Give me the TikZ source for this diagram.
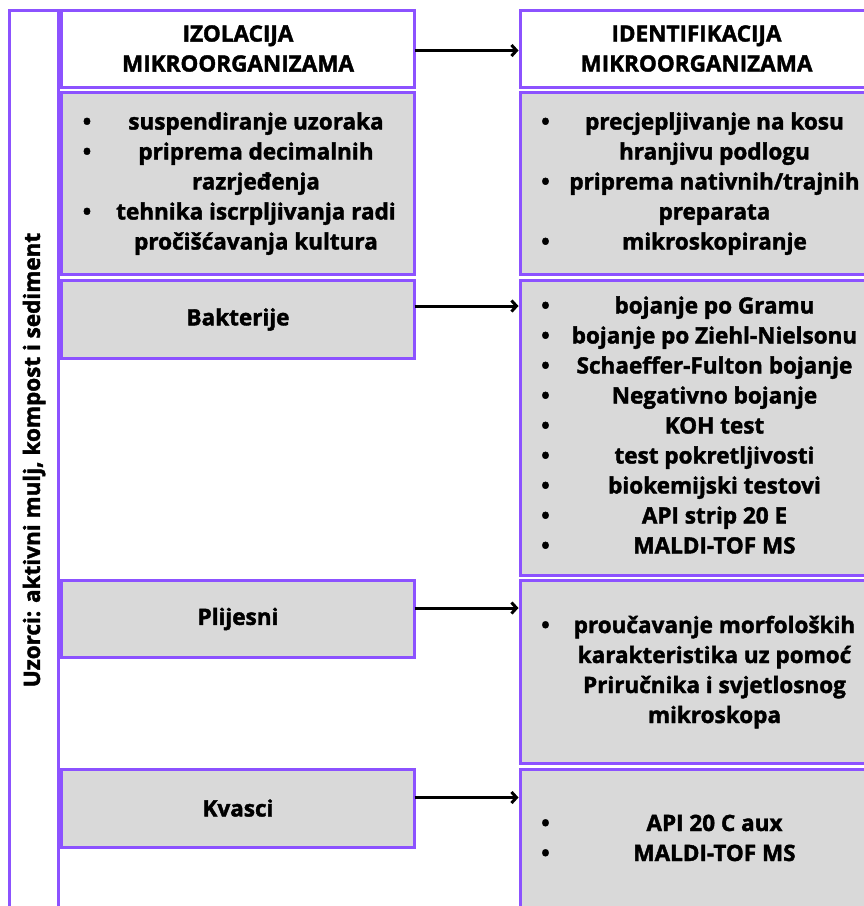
\documentclass[tikz,border=0pt]{standalone}
\usepackage{fontspec}
\setmainfont{Open Sans}[BoldFeatures={FakeBold=1.8}]
\usepackage{array}
\usetikzlibrary{positioning, arrows.meta}

\definecolor{lila}{HTML}{8C52FF}
\definecolor{siva}{HTML}{D9D9D9}
\newcolumntype{B}{>{\centering\arraybackslash}p{36pt}}
\newcolumntype{T}{>{\centering\arraybackslash}p{302pt}}
\newcommand{\stavke}[1]{\begin{tabular}{@{}B@{}T@{}}#1\end{tabular}}

\tikzset{
  okvir/.style={draw=lila, line width=3pt, minimum width=353pt, inner sep=0pt, outer sep=0pt, anchor=north west},
  naslov/.style={okvir, fill=white, minimum height=77pt, align=center},
  siviokvir/.style={okvir, fill=siva},
  strelica/.style={->, line width=3pt, shorten >=1.5pt}
}

\begin{document}
\begin{tikzpicture}[x=1pt, y=-1pt, >={Straight Barb[length=5pt, width=11pt]},
  font=\fontsize{22.5}{30}\selectfont\bfseries]
  \useasboundingbox (0,0) rectangle (864,906);
  \clip (0,0) rectangle (864,906);

  % uzorci
  \node[draw=lila, line width=3pt, rotate=90, minimum width=900pt, minimum height=48.8pt, inner sep=0pt] (uzorci) at (34.1,460) {Uzorci: aktivni mulj, kompost i sediment};

  % izolacija
  \node[naslov] (izol) at (61.5,10) {IZOLACIJA\\MIKROORGANIZAMA};
  \node[siviokvir, minimum height=182pt, below=5.5pt of izol.south west, anchor=north west] (izolpost) {\stavke{
    \textbullet & suspendiranje uzoraka\\
    \textbullet & priprema decimalnih\\
                & razrjeđenja\\
    \textbullet & tehnika iscrpljivanja radi\\
                & pročišćavanja kultura}};
  \node[siviokvir, minimum height=78pt, below=6pt of izolpost.south west, anchor=north west] (bakt) {Bakterije};

  % identifikacija
  \node[naslov] (ident) at (520,10) {IDENTIFIKACIJA\\MIKROORGANIZAMA};
  \node[siviokvir, minimum height=182pt, below=5.5pt of ident.south west, anchor=north west] (identpost) {\stavke{
    \textbullet & precjepljivanje na kosu\\
                & hranjivu podlogu\\
    \textbullet & priprema nativnih/trajnih\\
                & preparata\\
    \textbullet & mikroskopiranje}};
  \node[siviokvir, minimum height=295pt, below=5.5pt of identpost.south west, anchor=north west] (baktid) {\stavke{
    \textbullet & bojanje po Gramu\\
    \textbullet & bojanje po Ziehl-Nielsonu\\
    \textbullet & Schaeffer-Fulton bojanje\\
    \textbullet & Negativno bojanje\\
    \textbullet & KOH test\\
    \textbullet & test pokretljivosti\\
    \textbullet & biokemijski testovi\\
    \textbullet & API strip 20 E\\
    \textbullet & MALDI-TOF MS}};
  \node[siviokvir, minimum height=183pt, below=5.5pt of baktid.south west, anchor=north west] (plijid) {\stavke{
    \textbullet & proučavanje morfoloških\\
                & karakteristika uz pomoć\\
                & Priručnika i svjetlosnog\\
                & mikroskopa}};
  \node[siviokvir, minimum height=142pt, below=5.5pt of plijid.south west, anchor=north west] (kvasid) {\stavke{
    \textbullet & API 20 C aux\\
    \textbullet & MALDI-TOF MS}};

  % plijesni i kvasci
  \node[siviokvir, minimum height=77pt] (plij) at (izol.west |- plijid.north) {Plijesni};
  \node[siviokvir, minimum height=78pt] (kvas) at (izol.west |- kvasid.north) {Kvasci};

  % strelice
  \draw[strelica] ([yshift=-2pt]izol.east) -- ([yshift=-2pt]izol.east -| ident.west);
  \draw[strelica] ([yshift=13.5pt]bakt.east) -- ([yshift=13.5pt]bakt.east -| baktid.west);
  \draw[strelica] ([yshift=11pt]plij.east) -- ([yshift=11pt]plij.east -| plijid.west);
  \draw[strelica] ([yshift=10.5pt]kvas.east) -- ([yshift=10.5pt]kvas.east -| kvasid.west);
\end{tikzpicture}
\end{document}
